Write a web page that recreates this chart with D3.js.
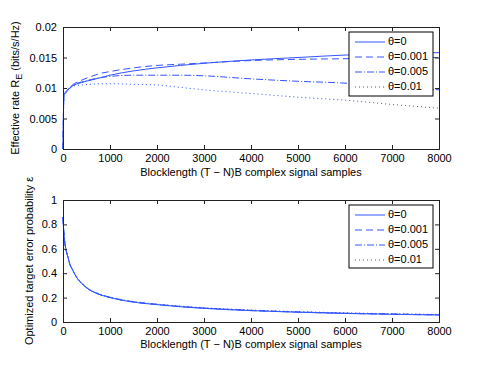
<!DOCTYPE html>
<html>
<head>
<meta charset="utf-8">
<script src="https://cdn.jsdelivr.net/npm/d3@7"></script>
<style>
body { margin: 0; background: #fff; }
text { font-family: "Liberation Sans", Arial, sans-serif; fill: #000; }
</style>
</head>
<body>
<svg width="485" height="365"></svg>
<script>
// top panel: effective rate vs blocklength
var xTop = [0, 20, 50, 100, 200, 400, 600, 800, 1000, 1500, 2000, 2500, 3000, 4000, 5000, 6000, 7000, 8000];
var rate0    = [0, 0.0088, 0.0091, 0.0096, 0.0103, 0.0109, 0.0113, 0.0117, 0.0121, 0.0128, 0.0133, 0.0137, 0.01405, 0.0146, 0.0150, 0.0154, 0.0156, 0.0158];
var rate001  = [0, 0.0089, 0.0093, 0.0098, 0.0105, 0.0113, 0.0119, 0.0124, 0.0127, 0.0133, 0.0137, 0.0139, 0.0141, 0.0145, 0.0147, 0.0148, 0.0149, 0.0150];
var rate005  = [0, 0.0089, 0.0092, 0.0097, 0.0104, 0.0110, 0.0114, 0.0117, 0.0119, 0.0121, 0.0121, 0.0121, 0.0120, 0.0115, 0.0111, 0.0108, 0.0102, 0.0097];
var rate01   = [0, 0.0088, 0.0092, 0.0097, 0.0103, 0.0105, 0.0106, 0.0107, 0.0107, 0.0106, 0.0105, 0.0101, 0.0097, 0.0091, 0.0085, 0.0080, 0.0073, 0.0067];

// bottom panel: optimized target error probability
var xBot = [0, 10, 30, 60, 100, 150, 200, 300, 400, 500, 650, 800, 1000, 1300, 1600, 2000, 2500, 3000, 4000, 5000, 6000, 7000, 8000];
var eps0   = [0.86, 0.78, 0.68, 0.60, 0.54, 0.47, 0.43, 0.36, 0.315, 0.28, 0.245, 0.222, 0.2, 0.175, 0.158, 0.142, 0.125, 0.112, 0.093, 0.08, 0.07, 0.063, 0.057];
var eps001 = [0.86, 0.78, 0.68, 0.60, 0.54, 0.47, 0.43, 0.36, 0.316, 0.281, 0.246, 0.223, 0.201, 0.176, 0.159, 0.143, 0.126, 0.113, 0.094, 0.081, 0.071, 0.064, 0.058];
var eps005 = [0.86, 0.78, 0.68, 0.60, 0.54, 0.47, 0.43, 0.361, 0.317, 0.283, 0.248, 0.225, 0.203, 0.178, 0.161, 0.145, 0.128, 0.115, 0.096, 0.083, 0.073, 0.066, 0.06];
var eps01  = [0.86, 0.78, 0.68, 0.60, 0.54, 0.47, 0.431, 0.362, 0.318, 0.284, 0.25, 0.227, 0.205, 0.18, 0.163, 0.147, 0.13, 0.117, 0.098, 0.085, 0.075, 0.068, 0.062];

var legendNames = ["\u03b8=0", "\u03b8=0.001", "\u03b8=0.005", "\u03b8=0.01"];
var dashes = [null, "7,4", "7,2,1,2", "1,3"];
var xTicks = [0, 1000, 2000, 3000, 4000, 5000, 6000, 7000, 8000];
var yTicksTop = [0, 0.005, 0.01, 0.015, 0.02];
var yTicksBot = [0, 0.2, 0.4, 0.6, 0.8, 1];

var blue = "#3355ff";
var left = 63, right = 439;
var svg = d3.select("svg");

function panel(top, bottom, yMax, yTicks, yFmt, xs, series, legendBox, xlabelY, ylabelX, ylabel){
	var x = d3.scaleLinear().domain([0, 8000]).range([left, right]);
	var y = d3.scaleLinear().domain([0, yMax]).range([bottom, top]);
	var g = svg.append("g");

	var line = d3.line()
	.x(d => x(d[0]))
	.y(d => y(d[1]))
	.curve(d3.curveMonotoneX);

	series.forEach(function(s, i){
		g.append("path")
		.attr("d", line(xs.map((v, j) => [v, s[j]])))
		.attr("fill", "none")
		.attr("stroke", blue)
		.attr("stroke-width", 1)
		.attr("stroke-dasharray", dashes[i]);
	});

	// axes with inward ticks on all sides
	var ax = g.append("g").attr("transform", "translate(0," + bottom + ")")
	.call(d3.axisBottom(x).tickValues(xTicks).tickSize(-4).tickPadding(5).tickFormat(d3.format("d")));
	var axT = g.append("g").attr("transform", "translate(0," + top + ")")
	.call(d3.axisTop(x).tickValues(xTicks).tickSize(-4).tickFormat(""));
	var ay = g.append("g").attr("transform", "translate(" + left + ",0)")
	.call(d3.axisLeft(y).tickValues(yTicks).tickSize(-4).tickPadding(6).tickFormat(yFmt));
	var ayR = g.append("g").attr("transform", "translate(" + right + ",0)")
	.call(d3.axisRight(y).tickValues(yTicks).tickSize(-4).tickFormat(""));
	[ax, axT, ay, ayR].forEach(function(a){
		a.select(".domain").attr("stroke", "#222");
		a.selectAll(".tick line").attr("stroke", "#222");
		a.selectAll("text").style("font-size", "11px").attr("fill", "#000")
		.style("font-family", "'Liberation Sans', Arial, sans-serif");
	});

	g.append("text")
	.attr("x", (left + right) / 2)
	.attr("y", xlabelY)
	.attr("text-anchor", "middle")
	.style("font-size", "11px")
	.text("Blocklength (T \u2212 N)B complex signal samples");

	var yl = g.append("text")
	.attr("transform", "translate(" + ylabelX + "," + ((top + bottom) / 2) + ") rotate(-90)")
	.attr("text-anchor", "middle")
	.style("font-size", "11px");
	ylabel(yl);

	// legend
	var lg = g.append("g");
	lg.append("rect")
	.attr("x", legendBox[0]).attr("y", legendBox[1])
	.attr("width", legendBox[2]).attr("height", legendBox[3])
	.attr("fill", "#fff").attr("stroke", "#000").attr("stroke-width", 1);
	legendNames.forEach(function(n, i){
		var ry = legendBox[1] + 10 + i * 15;
		lg.append("line")
		.attr("x1", legendBox[0] + 6).attr("x2", legendBox[0] + 36)
		.attr("y1", ry).attr("y2", ry)
		.attr("stroke", blue).attr("stroke-width", 1)
		.attr("stroke-dasharray", dashes[i]);
		lg.append("text")
		.attr("x", legendBox[0] + 39).attr("y", ry)
		.attr("dominant-baseline", "middle")
		.style("font-size", "11px")
		.text(n);
	});
}

panel(27, 149, 0.02, yTicksTop, d => d === 0 ? "0" : d3.format("")(+d.toFixed(3)),
	xTop, [rate0, rate001, rate005, rate01], [349, 32, 84, 64], 176, 19,
	function(t){
		t.append("tspan").text("Effective rate R");
		t.append("tspan").attr("dy", 3).style("font-size", "9px").text("E");
		t.append("tspan").attr("dy", -3).text(" (bits/s/Hz)");
	});

panel(200, 322, 1, yTicksBot, d => d === 0 || d === 1 ? String(d) : d.toFixed(1),
	xBot, [eps0, eps001, eps005, eps01], [349, 205, 84, 63], 348, 33,
	function(t){
		t.text("Optimized target error probability \u03b5");
	});
</script>
</body>
</html>
